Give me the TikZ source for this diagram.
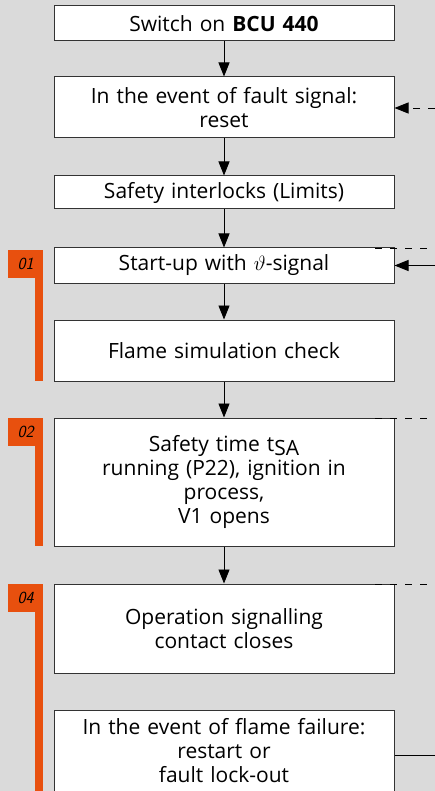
\documentclass[tikz,border=0pt]{standalone}
\usepackage{fontspec}
\setmainfont{Open Sans}
\usetikzlibrary{arrows.meta}
\definecolor{bggray}{RGB}{218,218,218}
\definecolor{stageorange}{RGB}{232,80,14}
\tikzset{
  stepbox/.style={draw=black!80, line width=1pt, fill=white, text width=336pt,
    minimum width=340pt, inner sep=0pt, align=center,
    font=\fontsize{21}{24}\selectfont},
  flow/.style={-{Triangle[length=14pt,width=11pt]}, line width=0.9pt},
  backline/.style={line width=0.9pt, dash pattern=on 7pt off 8pt},
  stagenum/.style={fill=stageorange, minimum width=35pt, minimum height=28pt,
    anchor=north west, inner sep=0pt, font=\sffamily\itshape\fontsize{17}{17}\selectfont},
}
\begin{document}
\begin{tikzpicture}[x=1pt,y=-1pt]
  \useasboundingbox (0,0) rectangle (435,791);
  \fill[bggray] (0,0) rectangle (435,791);
  % Steps
  \node[stepbox, minimum height=35pt] (on) at (224,23.5) {Switch on \textbf{BCU 440}};
  \node[stepbox, minimum height=61pt] (reset) at (224,107.5) {In the event of fault signal:\\reset};
  \node[stepbox, minimum height=33pt] (limits) at (224,192.5) {Safety interlocks (Limits)};
  \node[stepbox, minimum height=35pt] (startup) at (224,265.5) {Start-up with $\vartheta$-signal};
  \node[stepbox, minimum height=61pt] (simcheck) at (224,350.5) {Flame simulation check};
  \node[stepbox, minimum height=128pt] (safetytime) at (224,482) {Safety time t\raisebox{-0.35ex}{SA}\\running (P22), ignition in\\process,\\V1 opens};
  \node[stepbox, minimum height=89pt] (operation) at (224,628.5) {Operation signalling\\contact closes};
  \node[stepbox, anchor=north, inner ysep=8pt] (failure) at (224,710) {In the event of flame failure:\\restart or\\fault lock-out\rule[-40pt]{0pt}{40pt}};
  % Arrows down
  \draw[flow] (on) -- (reset);
  \draw[flow] (reset) -- (limits);
  \draw[flow] (limits) -- (startup);
  \draw[flow] (startup) -- (simcheck);
  \draw[flow] (simcheck) -- (safetytime);
  \draw[flow] (safetytime) -- (operation);
  % Return lines on the right
  \coordinate (resetin) at (435,108);
  \coordinate (startin) at (435,265.5);
  \coordinate (failout) at (435,755);
  \draw[flow, backline] (resetin) -- (reset.east |- resetin);
  \draw[flow] (startin) -- (startup.east |- startin);
  \draw[line width=0.9pt] (failure.east |- failout) -- (failout);
  \coordinate (dashA) at (375,248);
  \coordinate (dashB) at (375,418);
  \coordinate (dashC) at (375,584);
  \draw[backline] (dashA) -- (dashA -| resetin);
  \draw[backline] (dashB) -- (dashB -| resetin);
  \draw[backline] (dashC) -- (dashC -| resetin);
  % Stage markers
  \fill[stageorange] (35,250) rectangle (43,381);
  \fill[stageorange] (35,418) rectangle (43,546);
  \fill[stageorange] (35,584) rectangle (43,791);
  \node[stagenum] (st01) at (8,250) {01};
  \node[stagenum] (st02) at (8,418) {02};
  \node[stagenum] (st04) at (8,584) {04};
\end{tikzpicture}
\end{document}
